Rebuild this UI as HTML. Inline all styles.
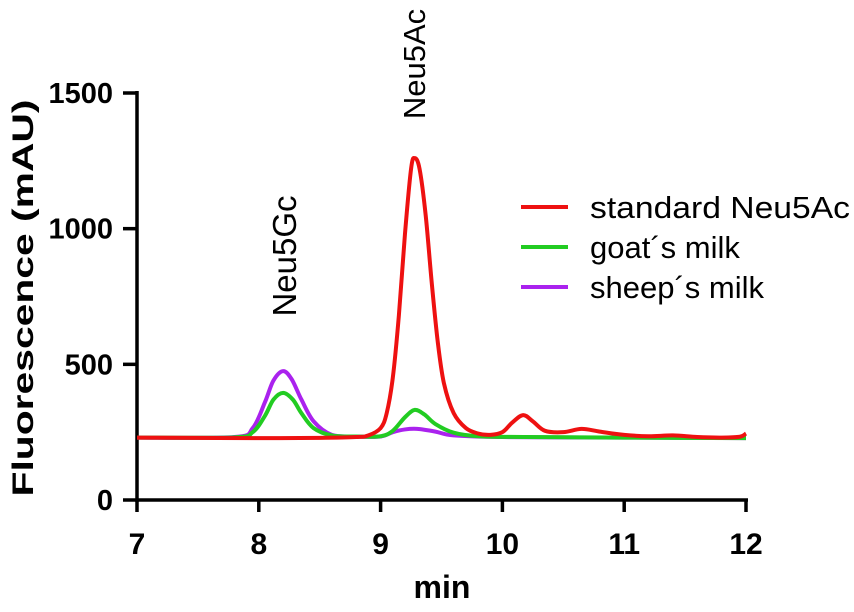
<!DOCTYPE html>
<html><head><meta charset="utf-8"><style>
html,body{margin:0;padding:0;background:#fff;}
svg{display:block;font-family:"Liberation Sans",Arial,sans-serif;}
</style></head><body>
<svg id="chart" width="854" height="612" viewBox="0 0 854 612">
<g id="axes"></g>
<g id="series"></g>
<text transform="translate(33,298) rotate(-90)" text-anchor="middle" font-size="30" font-weight="bold" textLength="397" lengthAdjust="spacingAndGlyphs">Fluorescence (mAU)</text>
<text x="442" y="598" text-anchor="middle" font-size="32" font-weight="bold">min</text>
<text transform="translate(296,256) rotate(-90)" text-anchor="middle" font-size="33">Neu5Gc</text>
<text transform="translate(425,64) rotate(-90)" text-anchor="middle" font-size="31">Neu5Ac</text>
<g>
<line x1="521" y1="207" x2="568" y2="207" stroke="#ee1111" stroke-width="4"/>
<text x="590" y="218" font-size="31" textLength="260" lengthAdjust="spacingAndGlyphs">standard Neu5Ac</text>
<line x1="521" y1="247" x2="568" y2="247" stroke="#22cc22" stroke-width="4"/>
<text x="590" y="258" font-size="31">goat´s milk</text>
<line x1="521" y1="287" x2="568" y2="287" stroke="#aa22ee" stroke-width="4"/>
<text x="590" y="298" font-size="31">sheep´s milk</text>
</g>
</svg>
<script>
const xTicks=[7,8,9,10,11,12];
const yTicks=[0,500,1000,1500];
const redT=[7,7.5,8,8.5,8.8,8.9,9,9.05,9.1,9.15,9.2,9.25,9.28,9.32,9.37,9.42,9.47,9.52,9.6,9.7,9.8,9.9,10,10.08,10.17,10.25,10.35,10.5,10.65,10.8,11,11.2,11.4,11.6,11.8,11.95,12];
const redV=[230,229,228,229,232,238,265,320,450,680,980,1220,1260,1220,1050,800,580,430,320,265,245,240,250,285,313,290,255,250,262,252,240,235,238,232,230,233,245];
const goatT=[7,7.8,7.95,8.05,8.12,8.2,8.28,8.35,8.45,8.6,8.8,9,9.1,9.2,9.28,9.36,9.45,9.6,9.8,10.2,11,12];
const goatV=[230,231,250,310,370,395,370,320,265,238,234,235,255,305,332,315,280,248,235,232,230,228];
const sheepT=[7,7.8,7.95,8.05,8.12,8.2,8.27,8.35,8.45,8.6,8.8,9,9.1,9.2,9.3,9.45,9.6,10,11,12];
const sheepV=[230,232,265,360,440,475,445,370,290,240,234,234,250,260,262,252,238,232,230,228];
const NS='http://www.w3.org/2000/svg';
const X=t=>137+(t-7)*(746-137)/5;
const Y=v=>500-v*(407/1500);
const axes=document.getElementById('axes');
function mk(tag,attrs,parent){const e=document.createElementNS(NS,tag);for(const k in attrs)e.setAttribute(k,attrs[k]);parent.appendChild(e);return e;}
let l=mk('line',{x1:137,y1:500,x2:748,y2:500,stroke:'#000','stroke-width':3.5},axes);


l=mk('line',{x1:137,y1:91,x2:137,y2:502,stroke:'#000','stroke-width':3.5},axes);


xTicks.forEach(t=>{
  const tk=mk('line',{x1:X(t),y1:500,x2:X(t),y2:512,stroke:'#000','stroke-width':3.5},axes);
  
  
  const tx=mk('text',{x:X(t),y:554,'text-anchor':'middle','font-size':30,'font-weight':'bold'},axes);
  tx.textContent=t;
  
  
});
yTicks.forEach(v=>{
  const tk=mk('line',{x1:123,y1:Y(v),x2:137,y2:Y(v),stroke:'#000','stroke-width':3.5},axes);
  
  
  const tx=mk('text',{x:113,y:Y(v)+10,'text-anchor':'end','font-size':29,'font-weight':'bold'},axes);
  tx.textContent=v;
  
  
});
function path(T,V){
  const p=T.map((t,i)=>[X(t),Y(V[i])]);
  let d='M'+p[0][0]+','+p[0][1];
  for(let i=0;i<p.length-1;i++){
    const p0=p[i-1]||p[i],p1=p[i],p2=p[i+1],p3=p[i+2]||p2;
    const c1=[p1[0]+(p2[0]-p0[0])/6,p1[1]+(p2[1]-p0[1])/6];
    const c2=[p2[0]-(p3[0]-p1[0])/6,p2[1]-(p3[1]-p1[1])/6];
    d+=` C${c1[0]},${c1[1]} ${c2[0]},${c2[1]} ${p2[0]},${p2[1]}`;
  }
  return d;
}
const sg=document.getElementById('series');
let s=mk('path',{d:path(sheepT,sheepV),fill:'none',stroke:'#aa22ee','stroke-width':4},sg);


s=mk('path',{d:path(goatT,goatV),fill:'none',stroke:'#22cc22','stroke-width':4},sg);


s=mk('path',{d:path(redT,redV),fill:'none',stroke:'#ee1111','stroke-width':4},sg);


</script>
</body></html>
